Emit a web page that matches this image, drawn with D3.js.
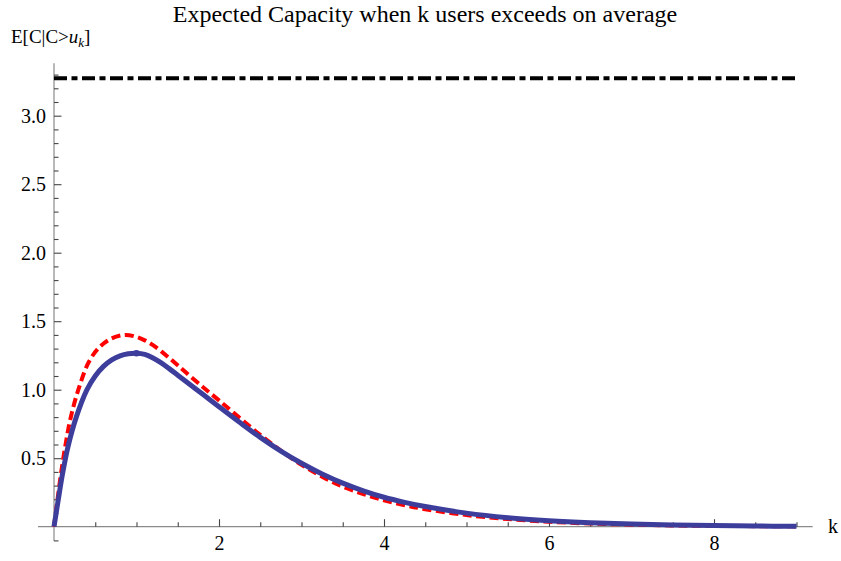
<!DOCTYPE html>
<html>
<head>
<meta charset="utf-8">
<script src="https://cdn.jsdelivr.net/npm/d3@7"></script>
<style>
  body { margin: 0; background: #fff; }
  text { font-family: "Liberation Serif", "DejaVu Serif", serif; fill: #000; }
  .tick text { font-family: "Liberation Serif", "DejaVu Serif", serif !important; font-size: 20px !important; fill: #000; }
</style>
</head>
<body>
<svg id="chart"></svg>
<script>
// values
const kBlue = [0, 0.05, 0.1, 0.17, 0.27, 0.4, 0.5, 0.6, 0.7, 0.8, 0.9, 1.0, 1.1, 1.2, 1.3, 1.4, 1.5, 1.6, 1.8, 2.0, 2.25, 2.5, 2.75, 3.0, 3.25, 3.5, 3.75, 4.0, 4.25, 4.5, 5.0, 5.5, 6.0, 6.5, 7.0, 7.5, 8.0, 8.5, 9.0];
const vBlue = [0, 0.19, 0.375, 0.585, 0.80, 1.0, 1.1, 1.17, 1.218, 1.247, 1.262, 1.266, 1.258, 1.232, 1.196, 1.152, 1.106, 1.06, 0.968, 0.876, 0.762, 0.652, 0.552, 0.463, 0.385, 0.318, 0.262, 0.215, 0.178, 0.147, 0.099, 0.066, 0.044, 0.029, 0.019, 0.013, 0.008, 0.005, 0.003];

const kRed = [0, 0.045, 0.09, 0.14, 0.2, 0.295, 0.42, 0.55, 0.7, 0.86, 1.0, 1.1, 1.2, 1.3, 1.4, 1.5, 1.6, 1.8, 2.0, 2.25, 2.5, 2.75, 3.0, 3.25, 3.5, 3.75, 4.0, 4.25, 4.5, 5.0, 5.5, 6.0, 6.5, 7.0, 7.5, 8.0, 8.5, 9.0];
const vRed = [0, 0.21, 0.41, 0.6, 0.79, 1.0, 1.2, 1.31, 1.375, 1.40, 1.385, 1.36, 1.325, 1.28, 1.23, 1.178, 1.125, 1.022, 0.922, 0.795, 0.67, 0.555, 0.452, 0.365, 0.293, 0.238, 0.193, 0.157, 0.128, 0.085, 0.056, 0.036, 0.023, 0.015, 0.009, 0.006, 0.004, 0.002];

const limitK = [0, 9];
const limitV = [3.273, 3.273];

const markK = [1.0];
const markV = [1.266];

const xMajor = [2, 4, 6, 8];
const yMajor = [0.5, 1.0, 1.5, 2.0, 2.5, 3.0];

const config = {
    width: 841,
    height: 561,
    x0: 54, y0: 526.7,
    pxPerK: 82.5, pxPerV: 137
};

const serif = '"Liberation Serif", "DejaVu Serif", serif';

const svg = d3.select('#chart')
    .attr('width', config.width)
    .attr('height', config.height);

const x = d3.scaleLinear()
    .domain([0, 9])
    .range([config.x0, config.x0 + 9 * config.pxPerK]);

const y = d3.scaleLinear()
    .domain([0, 3])
    .range([config.y0, config.y0 - 3 * config.pxPerV]);

// minor ticks
const xMinor = d3.range(0.5, 9.01, 0.5).filter(d => !xMajor.includes(d));
const yMinor = d3.range(-1, 34).map(d => d / 10).filter(d => d !== 0 && !yMajor.some(m => Math.abs(m - d) < 1e-6));

// axis lines
svg.append('line')
    .attr('x1', x(-0.194)).attr('x2', x(9.196))
    .attr('y1', y(0)).attr('y2', y(0))
    .attr('stroke', '#8a8a8a').attr('stroke-width', 1.2);

svg.append('line')
    .attr('x1', x(0)).attr('x2', x(0))
    .attr('y1', y(-0.105)).attr('y2', y(3.383))
    .attr('stroke', '#8a8a8a').attr('stroke-width', 1.2);

function styleAxis(g) {
    g.attr('font-family', serif).attr('font-size', 20);
    g.select('.domain').remove();
    g.selectAll('.tick line').attr('stroke', '#444').attr('stroke-width', 1.1);
    g.selectAll('.tick text').attr('fill', '#000');
}

svg.append('g')
    .attr('transform', `translate(0,${y(0)})`)
    .call(d3.axisBottom(x).tickValues(xMinor).tickSize(-4.5).tickFormat(''))
    .call(styleAxis);

svg.append('g')
    .attr('transform', `translate(0,${y(0)})`)
    .call(d3.axisBottom(x).tickValues(xMajor).tickSize(-7.5).tickPadding(9).tickFormat(d3.format('d')))
    .call(styleAxis);

svg.append('g')
    .attr('transform', `translate(${x(0)},0)`)
    .call(d3.axisLeft(y).tickValues(yMinor).tickSize(-4.5).tickFormat(''))
    .call(styleAxis);

svg.append('g')
    .attr('transform', `translate(${x(0)},0)`)
    .call(d3.axisLeft(y).tickValues(yMajor).tickSize(-7.5).tickPadding(8).tickFormat(d3.format('.1f')))
    .call(styleAxis);

// curves
const line = d3.line()
    .x(d => x(d[0]))
    .y(d => y(d[1]))
    .curve(d3.curveCatmullRom.alpha(0.5));

svg.append('path')
    .datum(d3.zip(kRed, vRed))
    .attr('d', line)
    .attr('fill', 'none')
    .attr('stroke', '#ff0000')
    .attr('stroke-width', 4)
    .attr('stroke-dasharray', '9,4.5');

svg.append('path')
    .datum(d3.zip(kBlue, vBlue))
    .attr('d', line)
    .attr('fill', 'none')
    .attr('stroke', '#3d3d9c')
    .attr('stroke-width', 5)
    .attr('stroke-linejoin', 'round');

svg.selectAll('.mark')
    .data(d3.zip(markK, markV))
    .enter()
    .append('circle')
    .attr('class', 'mark')
    .attr('cx', d => x(d[0]))
    .attr('cy', d => y(d[1]))
    .attr('r', 3.3)
    .attr('fill', '#3d3d9c');

svg.append('path')
    .datum(d3.zip(limitK, limitV))
    .attr('d', d3.line().x(d => x(d[0])).y(d => y(d[1])))
    .attr('fill', 'none')
    .attr('stroke', '#000')
    .attr('stroke-width', 4)
    .attr('stroke-dasharray', '13,4.5,6,4.5');

// texts
svg.append('text')
    .attr('x', 425)
    .attr('y', 21.5)
    .attr('text-anchor', 'middle')
    .style('font-size', '24px')
    .text('Expected Capacity when k users exceeds on average');

const yLab = svg.append('text')
    .attr('x', 11)
    .attr('y', 43)
    .style('font-size', '19px');
yLab.append('tspan').text('E[C|C>');
yLab.append('tspan').style('font-style', 'italic').text('u');
yLab.append('tspan').style('font-style', 'italic').style('font-size', '13px').attr('dy', 4).text('k');
yLab.append('tspan').attr('dy', -4).text(']');

svg.append('text')
    .attr('x', 828)
    .attr('y', 533)
    .style('font-size', '20px')
    .text('k');
</script>
</body>
</html>
